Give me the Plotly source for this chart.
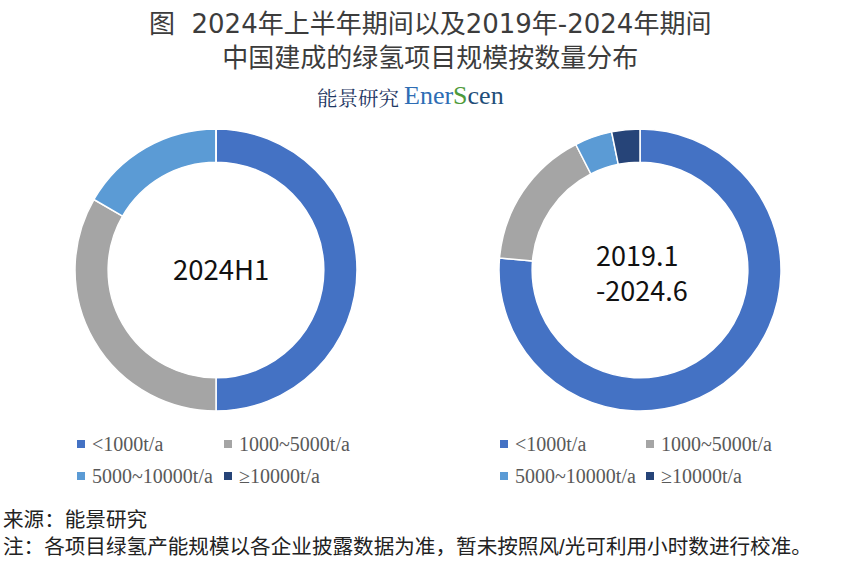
import plotly.graph_objects as go

# ---- data ----
categories = ["<1000t/a", "1000~5000t/a", "5000~10000t/a", "≥10000t/a"]
values_2024h1 = [3, 2, 1, 0]
values_2019_2024 = [71, 15, 4, 3]
center_labels = ["2024H1", "2019.1<br>-2024.6"]

title_lines = ["图\u00a0\u00a02024年上半年期间以及2019年-2024年期间", "中国建成的绿氢项目规模按数量分布"]
source_text = "来源：能景研究"
note_text = "注：各项目绿氢产能规模以各企业披露数据为准，暂未按照风/光可利用小时数进行校准。"

# ---- style ----
colors = ["#4472C4", "#A5A5A5", "#5B9BD5", "#264478"]
W, H = 860, 572
CJK = "Noto Sans CJK SC, Noto Sans, sans-serif"
TITLE_FONT = "DejaVu Sans, Noto Sans CJK SC, sans-serif"
FOOT_FONT = "Liberation Sans, Noto Sans CJK SC, sans-serif"
SERIF = "Liberation Serif, Times New Roman, serif"


def px(x):
    return x / W


def py(y):
    return 1 - y / H


fig = go.Figure()

R = 141
for cx, vals in [(216, values_2024h1), (640, values_2019_2024)]:
    fig.add_trace(go.Pie(
        labels=categories, values=vals, hole=0.765, sort=False,
        direction="clockwise", rotation=0,
        marker=dict(colors=colors, line=dict(color="white", width=1.5)),
        textinfo="none", hoverinfo="label+value+percent", showlegend=False,
        domain=dict(x=[px(cx - R), px(cx + R)], y=[py(270 + R), py(270 - R)]),
    ))

ann = []
shapes = []

# title (two lines in one text block)
ann.append(dict(x=px(430), y=py(41), text="<br>".join(title_lines), showarrow=False,
                xanchor="center", yanchor="middle", align="center",
                font=dict(family=TITLE_FONT, size=26, color="#3c3c3c")))

# logo
ann.append(dict(x=px(401), y=py(97), text="能景研究", showarrow=False,
                xanchor="right", yanchor="middle",
                font=dict(family="Noto Serif CJK SC, " + SERIF, size=20.5, color="#1F3864")))
ann.append(dict(x=px(402), y=py(96),
                text="<span style='color:#2E6DB4'>Ener</span><span style='color:#4E9A3A'>S</span><span style='color:#1F4E79'>cen</span>",
                showarrow=False, xanchor="left", yanchor="middle",
                font=dict(family=SERIF, size=26, color="#1F4E79")))

# center labels
ann.append(dict(x=px(221), y=py(268), text=center_labels[0], showarrow=False,
                xanchor="center", yanchor="middle",
                font=dict(family=CJK, size=27.5, color="#111111")))
ann.append(dict(x=px(594), y=py(272), text=center_labels[1], showarrow=False,
                xanchor="left", yanchor="middle", align="left",
                font=dict(family=CJK, size=27, color="#111111")))

# legends
for (sx1, sx2) in [(81, 228), (504, 650)]:
    pos = [(sx1, 444), (sx2, 444), (sx1, 476), (sx2, 476)]
    for cat, col, (sx, sy) in zip(categories, colors, pos):
        shapes.append(dict(type="rect", xref="paper", yref="paper",
                           x0=px(sx - 4), x1=px(sx + 4), y0=py(sy + 4), y1=py(sy - 4),
                           fillcolor=col, line=dict(width=0)))
        ann.append(dict(x=px(sx + 9), y=py(sy), text=cat, showarrow=False,
                        xanchor="left", yanchor="middle",
                        font=dict(family=SERIF, size=20, color="#595959")))

# footer (two lines in one text block)
ann.append(dict(x=px(1), y=py(533), text=source_text + "<br>" + note_text, showarrow=False,
                xanchor="left", yanchor="middle", align="left",
                font=dict(family=FOOT_FONT, size=20.6, color="#222222")))

fig.update_layout(
    width=W, height=H, margin=dict(l=0, r=0, t=0, b=0),
    paper_bgcolor="white", plot_bgcolor="white",
    annotations=ann, shapes=shapes,
)

fig.write_html("out.html")
